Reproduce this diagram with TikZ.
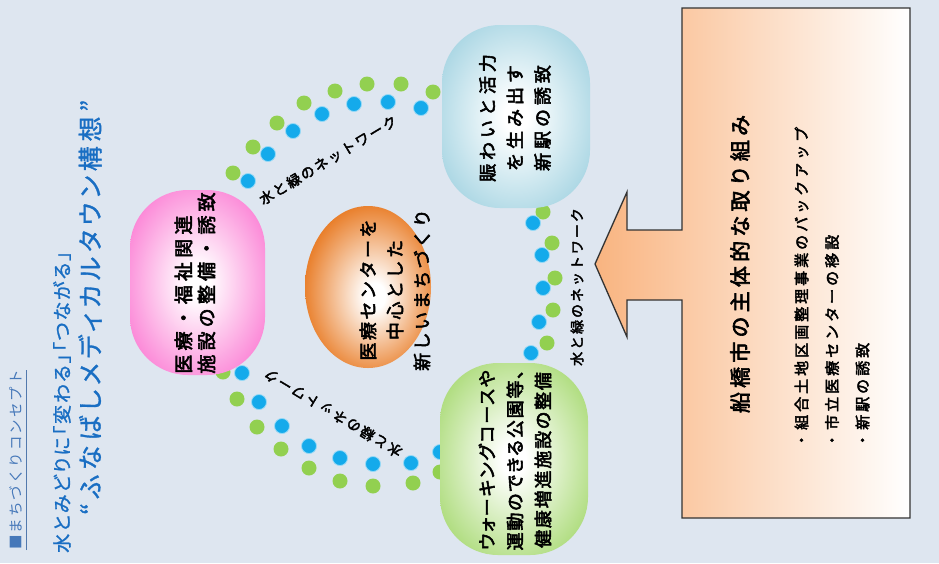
\documentclass[tikz,border=0pt]{standalone}
\usepackage{fontspec}
\usetikzlibrary{shapes.geometric}
\newfontfamily\jp{Noto Sans CJK JP}
\newfontfamily\jpb{Noto Sans CJK JP}[FakeBold=3]
\newfontfamily\jpbp{Noto Sans CJK JP}[FakeBold=3,RawFeature=+palt]
\newfontfamily\jpp{Noto Sans CJK JP}[FakeBold=1.2,RawFeature=+palt]
\newcommand\jf[3]{\fontsize{#1}{#3}\selectfont\addfontfeatures{LetterSpace=#2}}
\definecolor{bg}{RGB}{222,230,240}
\definecolor{titleBlue}{RGB}{25,110,195}
\definecolor{subBlue}{RGB}{70,120,185}
\definecolor{pinkC}{RGB}{250,90,200}
\definecolor{blueC}{RGB}{140,200,218}
\definecolor{greenC}{RGB}{146,208,80}
\definecolor{orangeC}{RGB}{230,110,15}
\definecolor{dotB}{RGB}{20,170,235}
\definecolor{dotG}{RGB}{146,208,80}
\definecolor{peach}{RGB}{249,180,128}
\pgfdeclareradialshading{pinkshade}{\pgfpoint{0bp}{0bp}}{color(0bp)=(white); color(4bp)=(white); color(38bp)=(pinkC); color(50bp)=(pinkC)}
\pgfdeclareradialshading{blueshade}{\pgfpoint{0bp}{0bp}}{color(0bp)=(white); color(4bp)=(white); color(38bp)=(blueC); color(50bp)=(blueC)}
\pgfdeclareradialshading{greenshade}{\pgfpoint{0bp}{0bp}}{color(0bp)=(white); color(4bp)=(white); color(38bp)=(greenC); color(50bp)=(greenC)}
\pgfdeclareradialshading{orangeshade}{\pgfpoint{3bp}{-3bp}}{color(0bp)=(white); color(4bp)=(white); color(30bp)=(orangeC); color(35bp)=(orangeC!85!black); color(50bp)=(orangeC!85!black)}
\tikzset{
  pill/.style={rounded corners=58pt, draw=none, inner sep=0pt},
  rtext/.style={rotate=90, inner sep=0pt, text=black},
  netlabel/.style={inner sep=0pt, text=black, font=\jpb\jf{14}{14}{15pt}},
  gdot/.style={fill=dotG},
  bdot/.style={fill=dotB, draw=dotB!45, line width=0.8pt},
}
\begin{document}
\begin{tikzpicture}[x=1pt,y=-1pt]
\useasboundingbox (0,0) rectangle (939,563);
\fill[bg] (0,0) rectangle (939,563);

% titles
\node[rtext, anchor=west, text=subBlue, font=\jp\jf{14.5}{14}{16pt}] (sub) at (16,550) {■まちづくりコンセプト};
\draw[subBlue!80!gray, line width=1pt] ([xshift=4pt]sub.south west) -- ([xshift=4pt]sub.south east);
\node[rtext, anchor=west, text=titleBlue, font=\jpp\jf{19}{10}{20pt}] (t1) at (62,553) {水とみどりに「変わる」「つながる」};
\node[rtext, anchor=west, text=titleBlue, font=\jpp\jf{25}{19}{26pt}] (t2) at (90,515) {“ふなばしメディカルタウン構想”};

% dot chains
\foreach \p in {(233,173),(253,147),(277,123),(304,103),(335,91),(367,84),(401,84),(433,92),
                (223,372),(237,399),(257,427),(281,449),(309,468),(340,481),(373,486),(413,483),(440,472),
                (543,212),(552,243),(555,278),(553,310),(547,343)}
  \fill[gdot] \p circle[radius=7.5pt];
\foreach \p in {(248,181),(268,154),(293,131),(322,114),(354,104),(388,102),(421,108),
                (242,373),(259,402),(282,426),(309,446),(340,458),(373,464),(411,463),(440,452),
                (533,223),(542,255),(543,288),(539,322),(531,353)}
  \path[bdot] \p circle[radius=7.5pt];

\node[netlabel, rotate=31] (net1) at (328,160) {水と緑のネットワーク};
\node[netlabel, rotate=149] (net2) at (333,413) {水と緑のネットワーク};
\node[netlabel, rotate=90] (net3) at (577,287) {水と緑のネットワーク};

% shapes
\node[pill, shading=pinkshade, minimum width=135pt, minimum height=185pt] (pink) at (197.5,282.5) {};
\node[pill, shading=blueshade, minimum width=148pt, minimum height=183pt] (blue) at (516,116.5) {};
\node[pill, shading=greenshade, minimum width=148pt, minimum height=192pt] (green) at (514,459) {};
\node[ellipse, draw=none, shading=orangeshade, minimum width=126pt, minimum height=162pt, inner sep=0pt] (orange) at (368,287) {};

\node[rtext, align=left, font=\jpb\jf{19}{22}{23pt}] (pinkt) at (195,283) {医療・福祉関連\\施設の整備・誘致};
\node[rtext, align=center, font=\jpb\jf{18}{14}{27pt}] (oranget) at (395,290) {医療センターを\\中心とした\\新しいまちづくり};
\node[rtext, align=center, font=\jpb\jf{18}{22}{27.5pt}] (bluet) at (515,118) {賑わいと活力\\を生み出す\\新駅の誘致};
\node[rtext, align=center, font=\jpbp\jf{18}{10}{28pt}] (greent) at (515,460) {ウォーキングコースや\\運動のできる公園等、\\健康増進施設の整備};

% right box with arrow
\path[draw=black!80, line width=1.3pt, left color=peach, right color=white]
  (910,8) -- (682,8) -- (682,230) -- (627,230) -- (627,192) -- (595,264) -- (627,337)
  -- (627,300) -- (682,300) -- (682,518) -- (910,518) -- cycle;
\node[rtext, font=\jpb\jf{21}{20}{24pt}] (ttl) at (740,264) {船橋市の主体的な取り組み};
\node[rtext, anchor=west, align=left, font=\jpb\jf{15}{20}{30.5pt}] (bul) at (832,448) {・組合土地区画整理事業のバックアップ\\・市立医療センターの移設\\・新駅の誘致};
\end{tikzpicture}
\end{document}
